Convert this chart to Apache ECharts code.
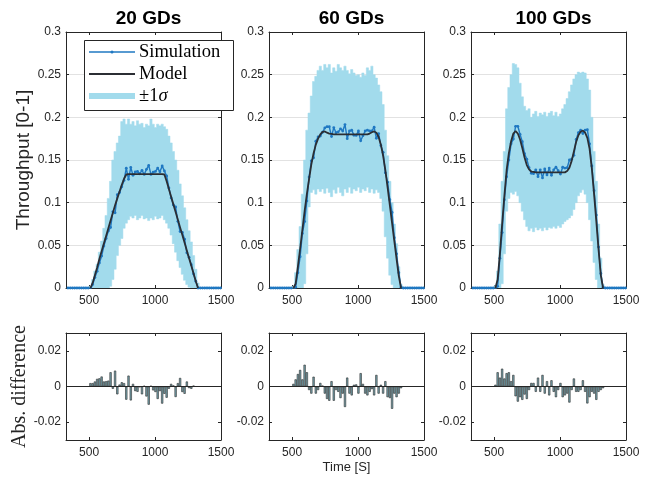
<!DOCTYPE html>
<html><head><meta charset="utf-8">
<script src="https://cdn.jsdelivr.net/npm/echarts@6/dist/echarts.min.js"></script>
<style>html,body{margin:0;padding:0;background:#fff}#c{width:660px;height:478px}</style>
</head><body><div id="c"></div>
<script>
// ---------------- data ----------------
const titles = ['20 GDs', '60 GDs', '100 GDs'];
const xTicks = [500, 1000, 1500];
const yTicksTop = [0, 0.05, 0.1, 0.15, 0.2, 0.25, 0.3];
const yTicksBottom = [-0.02, 0, 0.02];

// sampling instants of the active window [s]
const times = [510, 527, 544, 561, 578, 595, 612, 629, 646, 663, 680, 697, 714, 731, 748, 765, 782, 799, 816, 833,
  850, 867, 884, 901, 918, 935, 952, 969, 986, 1003, 1020, 1037, 1054, 1071, 1088, 1105, 1122, 1139, 1156, 1173,
  1190, 1207, 1224, 1241, 1258, 1275, 1292, 1309, 1326];
// idle instants where the simulated throughput is 0
const idleBefore = [340, 357, 374, 391, 408, 425, 442, 459, 476, 493];
const idleAfter = [1343, 1360, 1377, 1394, 1411, 1428, 1445, 1462, 1479, 1496];
const idleValue = 0;

// 20 GDs
const model20 = [0.000, 0.006, 0.015, 0.024, 0.034, 0.043, 0.052, 0.061, 0.070, 0.079, 0.088, 0.097, 0.105, 0.113, 0.121, 0.128, 0.133,
  0.1335, 0.1335, 0.1335, 0.1335, 0.1335, 0.1335, 0.1335, 0.1335, 0.1335, 0.1335, 0.1335, 0.1335, 0.1335, 0.1335, 0.1335, 0.1335,
  0.133, 0.125, 0.116, 0.107, 0.098, 0.089, 0.080, 0.071, 0.062, 0.053, 0.044, 0.035, 0.026, 0.017, 0.008, 0.000];
const diff20 = [0.0019, 0.0019, 0.0028, 0.0043, 0.0046, 0.0056, 0.0028, 0.0030, 0.0033, 0.0080, -0.0013, 0.0089, -0.0044, 0.0011,
  0.0024, 0.0019, -0.0074, 0.0061, -0.0078, 0.0015, -0.0026, -0.0030, -0.0004, -0.0044, 0.0004, -0.0056, -0.0102, 0.0004, -0.0022,
  -0.0031, -0.0070, -0.0026, -0.0096, -0.0041, -0.0063, -0.0013, 0.0015, 0.0006, -0.0059, 0.0019, 0.0048, -0.0031, -0.0041, 0.0028,
  -0.0009, -0.0013, 0.0005, 0, 0];
const upper20 = [0.002, 0.010, 0.020, 0.028, 0.042, 0.055, 0.070, 0.085, 0.105, 0.125, 0.150, 0.160, 0.170, 0.178, 0.195, 0.198,
  0.192, 0.198, 0.192, 0.195, 0.190, 0.196, 0.192, 0.193, 0.188, 0.192, 0.190, 0.198, 0.192, 0.188, 0.192, 0.190, 0.192, 0.189,
  0.186, 0.178, 0.170, 0.160, 0.150, 0.138, 0.122, 0.108, 0.094, 0.080, 0.067, 0.054, 0.038, 0.022, 0.006];
const lower20 = [0, 0, 0, 0, 0, 0, 0, 0, 0, 0.002, 0.010, 0.022, 0.038, 0.050, 0.058, 0.070, 0.076, 0.080, 0.084, 0.082, 0.085,
  0.080, 0.082, 0.085, 0.081, 0.082, 0.079, 0.082, 0.080, 0.084, 0.081, 0.082, 0.085, 0.080, 0.076, 0.070, 0.062, 0.052, 0.042,
  0.032, 0.024, 0.016, 0.009, 0.004, 0.001, 0, 0, 0, 0];

// 60 GDs
const model60 = [0.000, 0.005, 0.025, 0.046, 0.068, 0.090, 0.110, 0.128, 0.145, 0.158, 0.168, 0.175, 0.180, 0.183, 0.1835, 0.182,
  0.181, 0.1805, 0.180, 0.180, 0.180, 0.180, 0.180, 0.180, 0.180, 0.180, 0.180, 0.180, 0.180, 0.180, 0.180, 0.180, 0.180, 0.180,
  0.181, 0.1825, 0.1835, 0.182, 0.177, 0.168, 0.155, 0.138, 0.118, 0.097, 0.076, 0.055, 0.034, 0.014, 0.000];
const diff60 = [0.0015, 0.004, 0.007, 0.0093, 0.004, 0.0122, 0.008, -0.002, -0.004, 0.0055, -0.004, -0.002, 0.002, 0.0005, -0.004,
  -0.007, -0.008, 0.003, -0.008, -0.002, -0.003, -0.0065, -0.004, -0.0115, 0.005, -0.004, -0.005, 0.001, 0.0012, -0.004, 0.0075,
  0.0015, -0.004, -0.005, -0.003, -0.0015, -0.005, 0.0065, -0.004, 0.001, -0.004, 0.003, -0.006, -0.0065, -0.0125, -0.004, -0.006,
  -0.004, -0.001];
const upper60 = [0.002, 0.018, 0.045, 0.072, 0.110, 0.150, 0.185, 0.205, 0.225, 0.242, 0.248, 0.255, 0.260, 0.255, 0.262, 0.258,
  0.262, 0.252, 0.258, 0.254, 0.262, 0.258, 0.255, 0.260, 0.255, 0.251, 0.256, 0.252, 0.249, 0.250, 0.247, 0.252, 0.249, 0.258,
  0.255, 0.260, 0.250, 0.246, 0.238, 0.230, 0.215, 0.185, 0.155, 0.125, 0.100, 0.075, 0.052, 0.025, 0.004];
const lower60 = [0, 0, 0, 0, 0, 0.005, 0.040, 0.095, 0.112, 0.115, 0.110, 0.116, 0.113, 0.116, 0.111, 0.117, 0.112, 0.107, 0.115,
  0.111, 0.118, 0.112, 0.108, 0.116, 0.112, 0.118, 0.111, 0.116, 0.114, 0.118, 0.112, 0.116, 0.114, 0.118, 0.112, 0.116, 0.111,
  0.115, 0.112, 0.105, 0.090, 0.060, 0.035, 0.015, 0.004, 0, 0, 0, 0];

// 100 GDs
const model100 = [0.000, 0.010, 0.040, 0.075, 0.108, 0.138, 0.158, 0.172, 0.181, 0.184, 0.181, 0.174, 0.164, 0.153, 0.144, 0.139,
  0.1365, 0.136, 0.1355, 0.1355, 0.1355, 0.1355, 0.1355, 0.1355, 0.1355, 0.1355, 0.1355, 0.1355, 0.1355, 0.1355, 0.1355, 0.1355,
  0.137, 0.141, 0.149, 0.160, 0.171, 0.179, 0.183, 0.1845, 0.182, 0.176, 0.163, 0.140, 0.110, 0.078, 0.045, 0.015, 0.000];
const diff100 = [0.001, 0.008, 0.005, 0.010, 0.0045, 0.0075, 0.008, 0.003, 0.0065, -0.0055, -0.0085, -0.006, -0.0075, -0.0045,
  -0.007, -0.002, 0.002, 0.002, -0.003, 0.005, -0.003, 0.0065, -0.004, 0.003, -0.005, 0.0035, -0.003, -0.006, -0.002, 0.002,
  -0.006, -0.005, -0.004, -0.009, -0.002, 0.0045, -0.003, -0.003, -0.002, 0.0035, -0.003, -0.0095, -0.006, -0.003, -0.004,
  -0.0075, -0.003, -0.002, -0.001];
const upper100 = [0.003, 0.020, 0.075, 0.125, 0.160, 0.210, 0.235, 0.250, 0.263, 0.262, 0.258, 0.240, 0.224, 0.213, 0.208, 0.210,
  0.200, 0.204, 0.207, 0.201, 0.205, 0.203, 0.206, 0.201, 0.205, 0.207, 0.202, 0.206, 0.201, 0.204, 0.210, 0.215, 0.222, 0.230,
  0.238, 0.245, 0.250, 0.253, 0.252, 0.253, 0.252, 0.245, 0.232, 0.200, 0.160, 0.125, 0.075, 0.035, 0.004];
const lower100 = [0, 0, 0, 0.005, 0.040, 0.090, 0.105, 0.112, 0.110, 0.113, 0.108, 0.100, 0.090, 0.080, 0.072, 0.067, 0.070, 0.066,
  0.071, 0.068, 0.070, 0.067, 0.071, 0.068, 0.071, 0.070, 0.072, 0.070, 0.073, 0.071, 0.075, 0.078, 0.080, 0.082, 0.085, 0.092,
  0.100, 0.108, 0.112, 0.115, 0.110, 0.100, 0.080, 0.055, 0.030, 0.010, 0, 0, 0];

const legendNames = ['Simulation', 'Model', '±1σ'];

// ---------------- style / layout ----------------
const FONT = '"Liberation Sans", Arial, Helvetica, sans-serif';
const SERIF = '"Liberation Serif", "Times New Roman", serif';
const C = { axis: '#262626', grid: '#e2e2e2', band: '#a2dbec', sim: '#1f78c2', model: '#2b2e34',
  barFill: '#76a3ad', barEdge: '#2c2c2c', text: '#262626' };
const X_MIN = 325, X_MAX = 1500, BIN = 17;
const LEFTS = [66, 269, 471], W = 155;
const TOP_Y = 32, TOP_H = 256, BOT_Y = 333, BOT_H = 107;

const panels = [
  { title: titles[0], model: model20, diff: diff20, upper: upper20, lower: lower20 },
  { title: titles[1], model: model60, diff: diff60, upper: upper60, lower: lower60 },
  { title: titles[2], model: model100, diff: diff100, upper: upper100, lower: lower100 }
];

const option = { animation: false, backgroundColor: '#fff', title: [], grid: [], xAxis: [], yAxis: [], series: [], graphic: [] };
const plainNum = v => String(+v.toFixed(4));

function addAxes(gridIndex, yMin, yMax, yTicks, opts) {
  const tickStyle = { color: C.axis, width: 1 };
  const xi = option.xAxis.length;
  option.xAxis.push({
    type: 'value', gridIndex, min: X_MIN, max: X_MAX, position: 'bottom',
    name: opts.xName || '', nameLocation: 'middle', nameGap: 21,
    nameTextStyle: { fontFamily: FONT, fontSize: 13, color: C.text },
    axisLine: { show: true, onZero: false, lineStyle: { color: C.axis, width: 1 } },
    axisTick: { show: true, inside: true, length: 3, customValues: [500, 1000], lineStyle: tickStyle },
    axisLabel: { show: true, customValues: xTicks, formatter: plainNum, color: C.text, fontSize: 12, fontFamily: FONT, margin: 7, hideOverlap: false },
    splitLine: { show: true, showMinLine: false, showMaxLine: false, lineStyle: { color: C.grid, width: 1 } }
  });
  option.xAxis.push({
    type: 'value', gridIndex, min: X_MIN, max: X_MAX, position: 'top',
    axisLine: { show: true, onZero: false, lineStyle: { color: C.axis, width: 1 } },
    axisTick: { show: true, inside: true, length: 3, customValues: [500, 1000], lineStyle: tickStyle },
    axisLabel: { show: false }, splitLine: { show: false }
  });
  const yi = option.yAxis.length;
  option.yAxis.push({
    type: 'value', gridIndex, min: yMin, max: yMax, position: 'left',
    name: opts.yName || '', nameLocation: 'middle', nameGap: opts.yNameGap || 33, nameRotate: 90,
    nameTextStyle: opts.yNameStyle || {},
    axisLine: { show: true, onZero: false, lineStyle: { color: C.axis, width: 1 } },
    axisTick: { show: true, inside: true, length: 3, customValues: yTicks, lineStyle: tickStyle },
    axisLabel: { show: true, customValues: yTicks, formatter: plainNum, color: C.text, fontSize: 12, fontFamily: FONT, margin: 5, hideOverlap: false },
    splitLine: { show: true, showMinLine: false, showMaxLine: false, lineStyle: { color: C.grid, width: 1 } }
  });
  option.yAxis.push({
    type: 'value', gridIndex, min: yMin, max: yMax, position: 'right',
    axisLine: { show: true, onZero: false, lineStyle: { color: C.axis, width: 1 } },
    axisTick: { show: true, inside: true, length: 3, customValues: yTicks, lineStyle: tickStyle },
    axisLabel: { show: false }, splitLine: { show: false }
  });
  return { xi, yi };
}

panels.forEach((p, i) => {
  const gTop = option.grid.length;
  option.grid.push({ left: LEFTS[i], top: TOP_Y, width: W, height: TOP_H, containLabel: false });
  const top = addAxes(gTop, 0, 0.3, yTicksTop, i === 0 ? {
    yName: 'Throughput [0-1]', yNameGap: 32,
    yNameStyle: { fontFamily: FONT, fontSize: 19, color: C.text }
  } : {});
  const gBot = option.grid.length;
  option.grid.push({ left: LEFTS[i], top: BOT_Y, width: W, height: BOT_H, containLabel: false });
  const bot = addAxes(gBot, -0.03, 0.03, yTicksBottom, {
    xName: i === 1 ? 'Time [S]' : '',
    yName: i === 0 ? 'Abs. difference' : '', yNameGap: 34,
    yNameStyle: { fontFamily: SERIF, fontSize: 20, color: C.text }
  });

  option.title.push({
    text: p.title, left: LEFTS[i] + W / 2, top: 4, textAlign: 'center',
    textStyle: { fontFamily: FONT, fontSize: 19, fontWeight: 'bold', color: '#000' }
  });

  // ±1σ band: stepped polygon between lower and upper
  option.series.push({
    type: 'custom', name: i === 0 ? legendNames[2] : 'band' + i, xAxisIndex: top.xi, yAxisIndex: top.yi, z: 1, silent: true, clip: true,
    data: times.map((t, k) => [t, p.lower[k], p.upper[k]]),
    encode: { x: 0, y: [1, 2] },
    renderItem: (params, api) => {
      if (params.dataIndex !== 0) return null;
      const pts = [];
      for (let k = 0; k < times.length; k++) {
        pts.push(api.coord([times[k] - BIN / 2, p.upper[k]]));
        pts.push(api.coord([times[k] + BIN / 2, p.upper[k]]));
      }
      for (let k = times.length - 1; k >= 0; k--) {
        pts.push(api.coord([times[k] + BIN / 2, p.lower[k]]));
        pts.push(api.coord([times[k] - BIN / 2, p.lower[k]]));
      }
      return { type: 'polygon', shape: { points: pts }, style: { fill: C.band, stroke: C.band, lineWidth: 0.5 } };
    }
  });

  const sim = [
    ...idleBefore.map(t => [t, idleValue]),
    ...times.map((t, k) => [t, +(p.model[k] - p.diff[k]).toFixed(5)]),
    ...idleAfter.map(t => [t, idleValue])
  ];
  option.series.push({
    type: 'line', name: i === 0 ? legendNames[0] : 'sim' + i, xAxisIndex: top.xi, yAxisIndex: top.yi, z: 3, silent: true,
    data: sim, symbol: 'circle', symbolSize: 2.8, showSymbol: true, clip: true,
    lineStyle: { color: C.sim, width: 1.4 }, itemStyle: { color: C.sim }
  });
  option.series.push({
    type: 'line', name: i === 0 ? legendNames[1] : 'model' + i, xAxisIndex: top.xi, yAxisIndex: top.yi, z: 4, silent: true,
    data: times.map((t, k) => [t, p.model[k]]), symbol: 'none', clip: true,
    lineStyle: { color: C.model, width: 1.8 }
  });
  option.series.push({
    type: 'bar', name: 'diff' + i, xAxisIndex: bot.xi, yAxisIndex: bot.yi, z: 3, silent: true,
    data: times.map((t, k) => [t, p.diff[k]]), barWidth: 2.2,
    itemStyle: { color: C.barFill, borderColor: C.barEdge, borderWidth: 0.6 },
    markLine: { silent: true, symbol: 'none', label: { show: false }, animation: false,
      lineStyle: { color: C.axis, width: 1.2, type: 'solid' }, data: [{ yAxis: 0 }] }
  });
});

// legend box inside the first panel
const LX = 84, LY = 40, LF = '18.5px ' + SERIF;
option.graphic = [
  { type: 'rect', z: 50, shape: { x: LX + 0.5, y: LY + 0.5, width: 149, height: 70 }, style: { fill: '#fff', stroke: C.axis, lineWidth: 1 } },
  { type: 'line', z: 51, shape: { x1: LX + 5, y1: LY + 12, x2: LX + 51, y2: LY + 12 }, style: { stroke: C.sim, lineWidth: 1.4 } },
  { type: 'circle', z: 52, shape: { cx: LX + 28, cy: LY + 12, r: 1.5 }, style: { fill: C.sim } },
  { type: 'line', z: 51, shape: { x1: LX + 5, y1: LY + 34, x2: LX + 51, y2: LY + 34 }, style: { stroke: C.model, lineWidth: 1.8 } },
  { type: 'line', z: 51, shape: { x1: LX + 5, y1: LY + 56, x2: LX + 51, y2: LY + 56 }, style: { stroke: C.band, lineWidth: 6 } },
  { type: 'text', z: 51, x: LX + 55, y: LY + 12, style: { text: legendNames[0], font: LF, fill: '#000', verticalAlign: 'middle' } },
  { type: 'text', z: 51, x: LX + 55, y: LY + 34, style: { text: legendNames[1], font: LF, fill: '#000', verticalAlign: 'middle' } },
  { type: 'text', z: 51, x: LX + 55, y: LY + 56, style: { text: '±1{i|σ}', font: LF, fill: '#000', verticalAlign: 'middle',
      rich: { i: { fontStyle: 'italic', fontFamily: SERIF, fontSize: 18.5, fill: '#000' } } } }
];

const chart = echarts.init(document.getElementById('c'), null, { renderer: 'canvas', width: 660, height: 478 });
chart.setOption(option);
</script>
</body></html>
